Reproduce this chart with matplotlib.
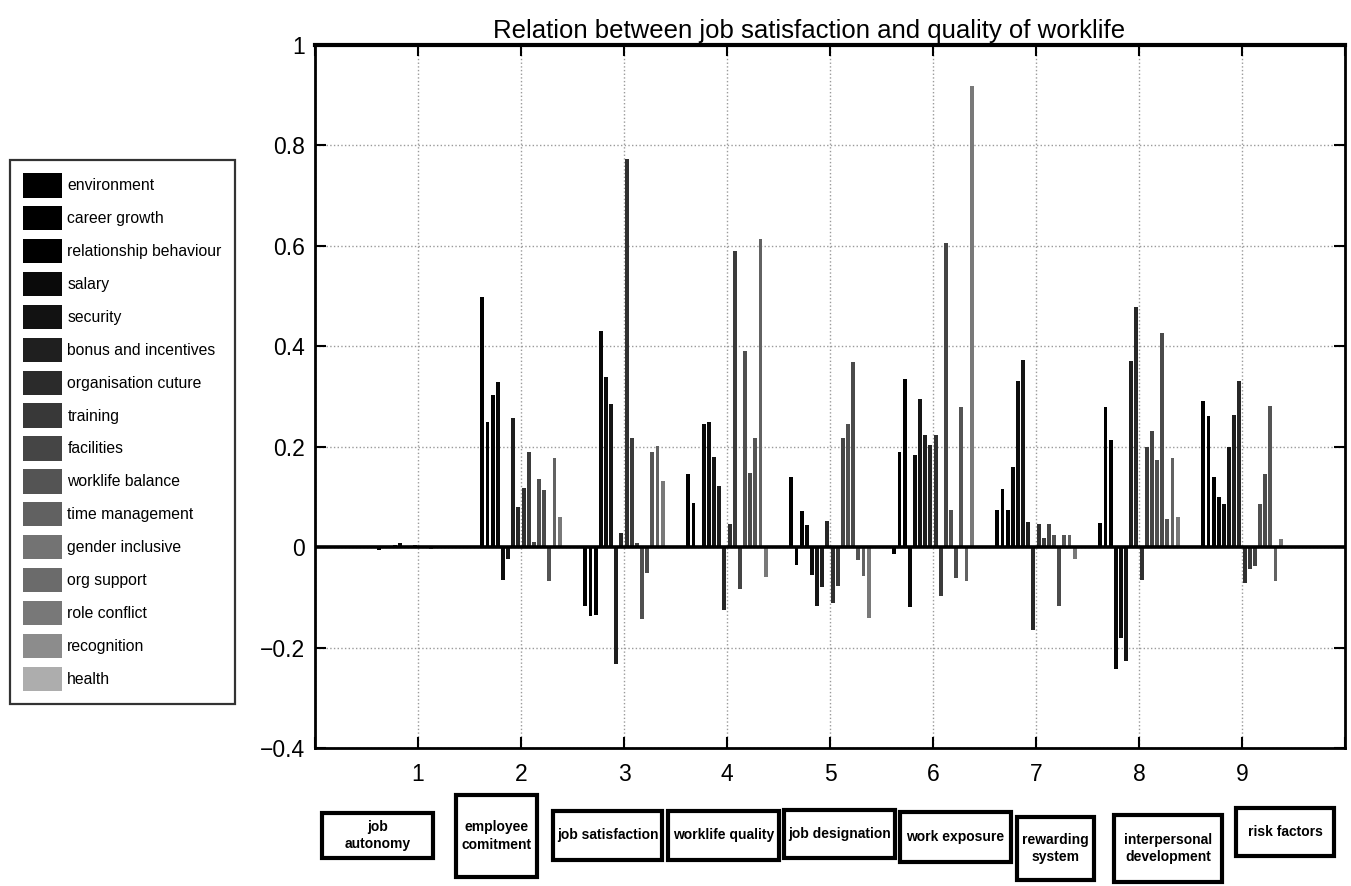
import matplotlib.pyplot as plt
from matplotlib.patches import Rectangle, Patch
import numpy as np

plt.rcParams['font.family'] = ['Liberation Sans', 'DejaVu Sans']

# 16 factors (legend order) and their gray shades
factors = ["environment", "career growth", "relationship behaviour", "salary",
           "security", "bonus and incentives", "organisation cuture", "training",
           "facilities", "worklife balance", "time management", "gender inclusive",
           "org support", "role conflict", "recognition", "health"]
gray_levels = [0.0, 0.0, 0.0, 0.04, 0.07, 0.12, 0.17, 0.22,
               0.27, 0.33, 0.38, 0.45, 0.42, 0.47, 0.55, 0.68]

# one list per group (1..9), 16 values each
job_autonomy = [-0.005, 0.0, 0.0, 0.005, 0.009, 0.002, 0.0, 0.005,
                0.001, 0.0, -0.003, 0.0, -0.002, -0.002, -0.002, -0.001]
employee_comitment = [0.498, 0.250, 0.303, 0.328, -0.065, -0.024, 0.257, 0.079,
                      0.118, 0.189, 0.011, 0.135, 0.114, -0.068, 0.177, 0.061]
job_satisfaction = [-0.117, -0.138, -0.135, 0.431, 0.338, 0.285, -0.233, 0.028,
                    0.773, 0.217, 0.009, -0.143, -0.051, 0.190, 0.202, 0.131]
worklife_quality = [0.146, 0.087, 0.0, 0.246, 0.250, 0.179, 0.122, -0.126,
                    0.047, 0.589, -0.083, 0.390, 0.148, 0.217, 0.613, -0.059]
job_designation = [0.140, -0.035, 0.072, 0.044, -0.055, -0.118, -0.079, 0.053,
                   -0.111, -0.078, 0.217, 0.245, 0.369, -0.025, -0.058, -0.141]
work_exposure = [-0.013, 0.190, 0.335, -0.119, 0.183, 0.295, 0.224, 0.203,
                 0.224, -0.097, 0.605, 0.074, -0.061, 0.279, -0.067, 0.918]
rewarding_system = [0.073, 0.115, 0.073, 0.159, 0.331, 0.373, 0.051, -0.165,
                    0.047, 0.018, 0.047, 0.025, -0.118, 0.025, 0.025, -0.023]
interpersonal_development = [0.048, 0.279, 0.214, -0.243, -0.180, -0.226, 0.371, 0.478,
                             -0.066, 0.200, 0.232, 0.174, 0.426, 0.056, 0.177, 0.060]
risk_factors = [0.291, 0.261, 0.139, 0.099, 0.086, 0.200, 0.263, 0.330,
                -0.072, -0.044, -0.037, 0.085, 0.146, 0.281, -0.068, 0.016]

group_labels = ["job\nautonomy", "employee\ncomitment", "job satisfaction",
                "worklife quality", "job designation", "work exposure",
                "rewarding\nsystem", "interpersonal\ndevelopment", "risk factors"]

values = np.array([job_autonomy, employee_comitment, job_satisfaction,
                   worklife_quality, job_designation, work_exposure,
                   rewarding_system, interpersonal_development, risk_factors])

W, H = 1351, 886
fig = plt.figure(figsize=(W / 100, H / 100), dpi=100)
ax = fig.add_axes([315 / W, 1 - 748 / H, 1030 / W, 703 / H])

x = np.arange(1, values.shape[0] + 1)
n = len(factors)
step = 0.8 / n
for k in range(n):
    offs = -0.4 + step / 2 + k * step
    # thin bars render darker than the legend swatches in the original
    ax.bar(x + offs, values[:, k], width=0.038, color=str(gray_levels[k] * 0.7),
           linewidth=0, zorder=3)

ax.axhline(0, color="black", lw=2.6, zorder=4)

ax.set_xlim(0, 10)
ax.set_ylim(-0.4, 1.0)
ax.set_xticks(np.arange(0, 11))
ax.set_xticklabels([""] + [str(i) for i in range(1, 10)] + [""])
yt = np.arange(-0.4, 1.01, 0.2)
ax.set_yticks(yt)
ax.set_yticklabels(["\u22120.4", "\u22120.2", "0", "0.2", "0.4", "0.6", "0.8", "1"])
ax.tick_params(direction="in", length=8, width=1.5, top=True, right=True,
               labelsize=16.5)
ax.tick_params(axis="x", pad=11)
ax.tick_params(axis="y", pad=7)
ax.grid(True, linestyle=":", color="#9a9a9a", lw=1.0, zorder=0)
for s in ax.spines.values():
    s.set_linewidth(2.0)
ax.spines["top"].set_linewidth(3.0)

ax.set_title("Relation between job satisfaction and quality of worklife",
             fontsize=18.5, pad=5, x=0.48)

handles = [Patch(facecolor=str(g), edgecolor="none", label=f)
           for f, g in zip(factors, gray_levels)]
leg = fig.legend(handles=handles, loc="upper left",
                 bbox_to_anchor=(10 / W, 1 - 160 / H),
                 fontsize=11.3, frameon=True, fancybox=False, edgecolor="black",
                 handlelength=2.45, handleheight=2.0, labelspacing=0.55,
                 borderpad=0.85, handletextpad=0.35, borderaxespad=0)
leg.get_frame().set_linewidth(1.6)

# category boxes under the axis (pixel extents of the boxes)
box_rects = [(322, 813, 433, 858), (456, 795, 537, 877), (553, 811, 662, 860),
             (668, 811, 779, 860), (784, 810, 895, 858), (900, 812, 1011, 862),
             (1017, 817, 1094, 880), (1114, 815, 1222, 882), (1236, 808, 1334, 856)]
for label, (x0, y0, x1, y1) in zip(group_labels, box_rects):
    fig.patches.append(Rectangle((x0 / W, 1 - y1 / H), (x1 - x0) / W, (y1 - y0) / H,
                                 transform=fig.transFigure, fill=False,
                                 edgecolor="black", lw=3.0))
    fig.text((x0 + x1) / 2 / W, 1 - (y0 + y1) / 2 / H, label, ha="center",
             va="center", fontsize=10, fontweight="bold", linespacing=1.3,
             family=["Liberation Sans Narrow", "Liberation Sans", "DejaVu Sans"])

fig.savefig("out.png", dpi=100)
